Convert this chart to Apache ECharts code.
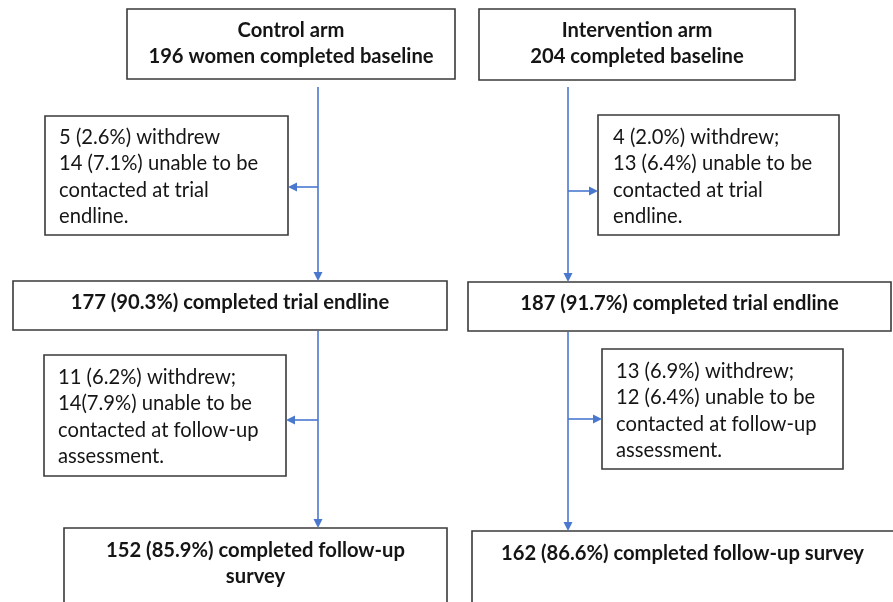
<!DOCTYPE html>
<html><head><meta charset="utf-8">
<script src="https://cdn.jsdelivr.net/npm/echarts@6/dist/echarts.min.js"></script>
<style>html,body{margin:0;padding:0;background:#fff}#c{width:893px;height:602px}</style>
</head><body><div id="c"></div>
<script>
// ---- content (data) ----
const controlBaseline = ["Control arm", "196 women completed baseline"];
const interventionBaseline = ["Intervention arm", "204 completed baseline"];
const controlLoss1 = ["5 (2.6%) withdrew", "14 (7.1%) unable to be", "contacted at trial", "endline."];
const interventionLoss1 = ["4 (2.0%) withdrew;", "13 (6.4%) unable to be", "contacted at trial", "endline."];
const controlEndline = ["177 (90.3%) completed trial endline"];
const interventionEndline = ["187 (91.7%) completed trial endline"];
const controlLoss2 = ["11 (6.2%) withdrew;", "14(7.9%) unable to be", "contacted at follow-up", "assessment."];
const interventionLoss2 = ["13 (6.9%) withdrew;", "12 (6.4%) unable to be", "contacted at follow-up", "assessment."];
const controlFollowup = ["152 (85.9%) completed follow-up", "survey"];
const interventionFollowup = ["162 (86.6%) completed follow-up survey"];

// ---- layout ----
const FONT = 'Lato, "Open Sans", sans-serif';
const FS = 20.2;
const BORDER = '#3a3a3a';
const BLUE = '#4a78cf';
const boxes = [
  {x1:127,y1:9,x2:455,y2:79,lines:controlBaseline,bold:true,align:'center',ty:30},
  {x1:479,y1:9,x2:795,y2:80,lines:interventionBaseline,bold:true,align:'center',ty:30},
  {x1:45,y1:116,x2:288,y2:235,lines:controlLoss1,bold:false,align:'left',tx:59,ty:137},
  {x1:598,y1:115,x2:839,y2:235,lines:interventionLoss1,bold:false,align:'left',tx:613,ty:137},
  {x1:13,y1:281,x2:447,y2:330,lines:controlEndline,bold:true,align:'center',ty:302},
  {x1:468,y1:282,x2:891,y2:331,lines:interventionEndline,bold:true,align:'center',ty:303},
  {x1:44,y1:355,x2:286,y2:476,lines:controlLoss2,bold:false,align:'left',tx:58,ty:377},
  {x1:602,y1:349,x2:843,y2:469,lines:interventionLoss2,bold:false,align:'left',tx:616,ty:371},
  {x1:64,y1:528,x2:447,y2:640,lines:controlFollowup,bold:true,align:'center',ty:550},
  {x1:472,y1:531,x2:900,y2:640,lines:interventionFollowup,bold:true,align:'center',ty:553}
];
const LH = 26.5;
const connectors = [
  {type:'v', x:318, y1:87, y2:281},
  {type:'v', x:318, y1:331, y2:528},
  {type:'v', x:568, y1:87, y2:282},
  {type:'v', x:568, y1:332, y2:531},
  {type:'h', y:187, x1:318, x2:288},
  {type:'h', y:191, x1:568, x2:598},
  {type:'h', y:420, x1:318, x2:286},
  {type:'h', y:419, x1:568, x2:602}
];

const g = [];
boxes.forEach(b => {
  g.push({type:'rect', shape:{x:b.x1,y:b.y1,width:b.x2-b.x1,height:b.y2-b.y1},
    style:{fill:'#fff',stroke:BORDER,lineWidth:1.6}, z:1});
  b.lines.forEach((t,i) => {
    g.push({type:'text', x: b.align==='center' ? (b.x1+Math.min(b.x2,893))/2 : b.tx,
      y: b.ty + i*LH, z:3,
      style:{text:t, fill:'#151515', font:(b.bold?'bold ':'')+FS+'px '+FONT,
        textAlign:b.align, textVerticalAlign:'middle'}});
  });
});
const AL = 9, AW = 4.5;
connectors.forEach(c => {
  if (c.type==='v') {
    g.push({type:'line', shape:{x1:c.x,y1:c.y1,x2:c.x,y2:c.y2-AL+1}, style:{stroke:BLUE,lineWidth:1.6}, z:2});
    g.push({type:'polygon', shape:{points:[[c.x-AW,c.y2-AL],[c.x+AW,c.y2-AL],[c.x,c.y2]]}, style:{fill:BLUE}, z:2});
  } else {
    const d = c.x2 > c.x1 ? 1 : -1;
    g.push({type:'line', shape:{x1:c.x1,y1:c.y,x2:c.x2-d*(AL-1),y2:c.y}, style:{stroke:BLUE,lineWidth:1.6}, z:2});
    g.push({type:'polygon', shape:{points:[[c.x2-d*AL,c.y-AW],[c.x2-d*AL,c.y+AW],[c.x2,c.y]]}, style:{fill:BLUE}, z:2});
  }
});

const chart = echarts.init(document.getElementById('c'), null, {renderer:'canvas'});
chart.setOption({backgroundColor:'#fff', animation:false, graphic:g});
</script></body></html>
